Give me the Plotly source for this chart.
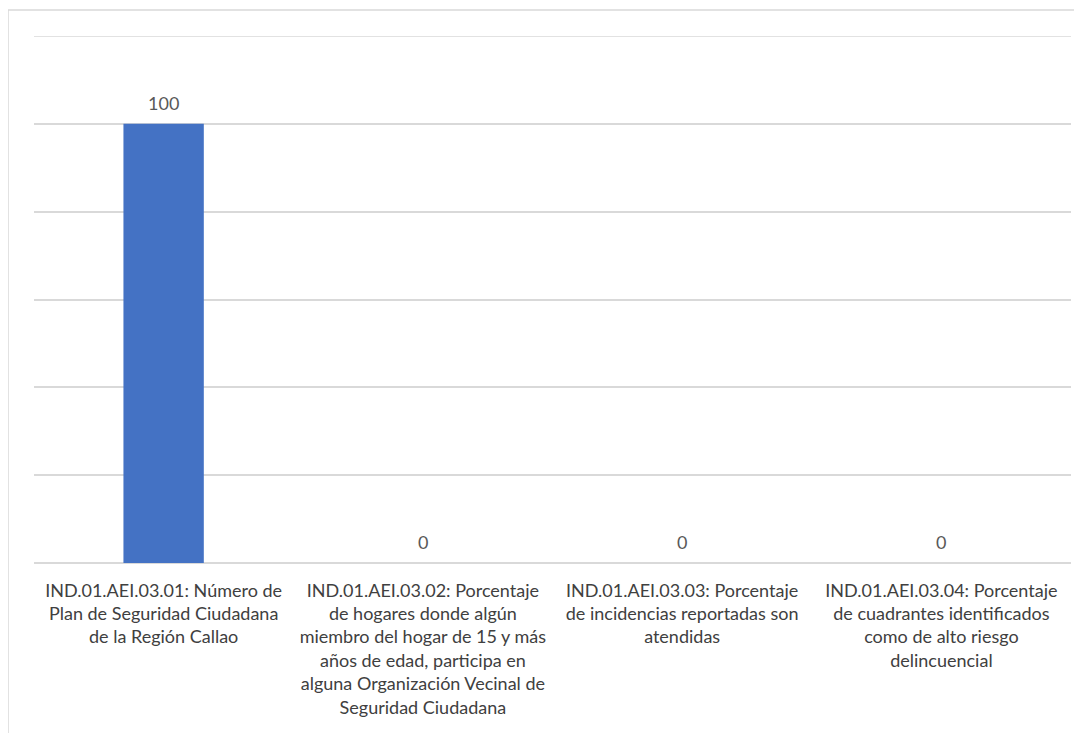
import plotly.graph_objects as go

categories = [
    "IND.01.AEI.03.01: Número de<br>Plan de Seguridad Ciudadana<br>de la Región Callao",
    "IND.01.AEI.03.02: Porcentaje<br>de hogares donde algún<br>miembro del hogar de 15 y más<br>años de edad, participa en<br>alguna Organización Vecinal de<br>Seguridad Ciudadana",
    "IND.01.AEI.03.03: Porcentaje<br>de incidencias reportadas son<br>atendidas",
    "IND.01.AEI.03.04: Porcentaje<br>de cuadrantes identificados<br>como de alto riesgo<br>delincuencial",
]
values = [100, 0, 0, 0]
value_labels = ["100", "0", "0", "0"]

FONT = "Lato, Open Sans, sans-serif"
xs = list(range(len(categories)))

fig = go.Figure(
    go.Bar(
        x=xs,
        y=values,
        marker=dict(color="#4472C4", line=dict(width=0)),
        width=0.31,
        hoverinfo="skip",
    )
)

for x, v, t in zip(xs, values, value_labels):
    fig.add_annotation(
        x=x, y=v, text=t, showarrow=False, xref="x", yref="y",
        yanchor="middle", yshift=21,
        font=dict(family=FONT, size=18, color="#595959"),
    )

PW, PH = 1037, 527
L, T = 26, 28
fig.update_layout(
    width=1082,
    height=733,
    margin=dict(l=L, r=1082 - L - PW, t=T, b=733 - T - PH),
    paper_bgcolor="white",
    plot_bgcolor="white",
    showlegend=False,
    font=dict(family=FONT, size=18, color="#404040"),
    xaxis=dict(
        tickmode="array",
        tickvals=xs,
        ticktext=categories,
        range=[-0.5, 3.5],
        showgrid=False,
        zeroline=False,
        showline=False,
        ticks="outside",
        ticklen=11,
        tickcolor="rgba(0,0,0,0)",
        tickfont=dict(family=FONT, size=18, color="#404040"),
        fixedrange=True,
    ),
    yaxis=dict(
        range=[0, 120],
        dtick=20,
        showticklabels=False,
        showgrid=True,
        gridcolor="#D9D9D9",
        gridwidth=1.5,
        zeroline=True,
        zerolinecolor="#D9D9D9",
        zerolinewidth=1.5,
        showline=False,
        fixedrange=True,
    ),
    shapes=[
        dict(type="line", xref="paper", yref="y", x0=0, x1=1, y0=120, y1=120,
             line=dict(color="#D9D9D9", width=1.5), layer="below"),
        dict(type="line", xref="paper", yref="paper",
             x0=-L / PW, x1=(1082 - L) / PW,
             y0=1 + 26 / PH, y1=1 + 26 / PH,
             line=dict(color="#D9D9D9", width=1.5)),
        dict(type="line", xref="paper", yref="paper",
             x0=-L / PW, x1=-L / PW,
             y0=1 + 26 / PH, y1=-200 / PH,
             line=dict(color="#D9D9D9", width=1.5)),
    ],
)

fig.write_html("out.html")
